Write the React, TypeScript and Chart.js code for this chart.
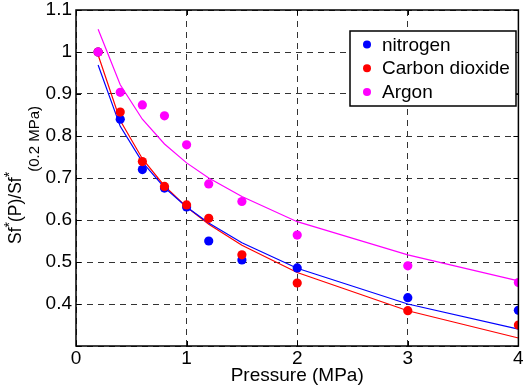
import React, { useEffect, useRef } from 'react';
import { Chart, registerables } from 'chart.js';

Chart.register(...registerables);

const FONT = '"Liberation Sans", Arial, Helvetica, sans-serif';

// Pressure (MPa)
const pressure = [0.2, 0.4, 0.6, 0.8, 1.0, 1.2, 1.5, 2, 3, 4];
// Measured Sf*(P)/Sf*(0.2 MPa)
const nitrogen = [1.0, 0.84, 0.72, 0.676, 0.631, 0.55, 0.505, 0.486, 0.415, 0.385];
const carbonDioxide = [1.0, 0.857, 0.739, 0.68, 0.636, 0.604, 0.517, 0.45, 0.384, 0.35];
const argon = [1.0, 0.904, 0.874, 0.848, 0.779, 0.686, 0.644, 0.564, 0.491, 0.451];
// Fitted curves
const nitrogenFit = [0.969, 0.823, 0.738, 0.677, 0.631, 0.593, 0.546, 0.485, 0.4, 0.34];
const carbonDioxideFit = [0.993, 0.837, 0.746, 0.681, 0.631, 0.59, 0.54, 0.475, 0.384, 0.319];
const argonFit = [1.054, 0.922, 0.84, 0.781, 0.736, 0.7, 0.656, 0.596, 0.517, 0.455];

const seriesLabels = ['nitrogen', 'Carbon dioxide', 'Argon'];
const seriesColors = ['#0000ff', '#ff0000', '#ff00ff'];

const xTickValues = [0, 1, 2, 3, 4];
const yTickValues = [0.3, 0.4, 0.5, 0.6, 0.7, 0.8, 0.9, 1.0, 1.1];
const yTickLabels = ['', '0.4', '0.5', '0.6', '0.7', '0.8', '0.9', '1', '1.1'];

const xTitle = 'Pressure (MPa)';

const toPts = (ys: number[]) => pressure.map((x, i) => ({ x, y: ys[i] }));

const overlay = {
  id: 'overlay',
  afterDraw(chart: any) {
    const { ctx, chartArea: a, scales } = chart;
    const xs = scales.x;
    const ys = scales.y;
    ctx.save();
    // inside tick marks
    ctx.strokeStyle = '#000';
    ctx.lineWidth = 1;
    ctx.setLineDash([]);
    ctx.beginPath();
    for (const t of xTickValues) {
      const px = Math.round(xs.getPixelForValue(t)) + 0.5;
      ctx.moveTo(px, a.bottom);
      ctx.lineTo(px, a.bottom - 5);
      ctx.moveTo(px, a.top);
      ctx.lineTo(px, a.top + 5);
    }
    for (const t of yTickValues) {
      const py = Math.round(ys.getPixelForValue(t)) + 0.5;
      ctx.moveTo(a.left, py);
      ctx.lineTo(a.left + 5, py);
      ctx.moveTo(a.right, py);
      ctx.lineTo(a.right - 5, py);
    }
    ctx.stroke();
    // axes box
    ctx.lineWidth = 1.5;
    ctx.strokeRect(a.left, a.top, a.right - a.left, a.bottom - a.top);

    // legend
    const lx = 350, ly = 31, lw = 166, lh = 75;
    ctx.fillStyle = '#fff';
    ctx.fillRect(lx, ly, lw, lh);
    ctx.lineWidth = 1.5;
    ctx.strokeStyle = '#000';
    ctx.strokeRect(lx, ly, lw, lh);
    ctx.font = `19px ${FONT}`;
    ctx.textBaseline = 'middle';
    ctx.textAlign = 'left';
    seriesLabels.forEach((lab, i) => {
      const cy = ly + 13.5 + i * 23.7;
      ctx.fillStyle = seriesColors[i];
      ctx.beginPath();
      ctx.arc(lx + 17, cy, 4, 0, Math.PI * 2);
      ctx.fill();
      ctx.fillStyle = '#000';
      ctx.fillText(lab, lx + 32, cy + 1);
    });

    // y axis title with super/subscripts
    const big = `17.5px ${FONT}`;
    const sup = `14px ${FONT}`;
    const sub = `15px ${FONT}`;
    const parts: [string, string, number][] = [
      ['Sf', big, 0],
      ['*', sup, -7],
      ['(P)/Sf', big, 0],
      ['*', sup, -7],
      ['(0.2 MPa)', sub, 18.5],
    ];
    let total = 0;
    for (const [t, f] of parts) {
      ctx.font = f;
      total += ctx.measureText(t).width;
    }
    const centerY = 175;
    ctx.translate(20.7, centerY + total / 2);
    ctx.rotate(-Math.PI / 2);
    ctx.fillStyle = '#000';
    ctx.textBaseline = 'alphabetic';
    let cx = 0;
    for (const [t, f, dy] of parts) {
      ctx.font = f;
      ctx.fillText(t, cx, dy);
      cx += ctx.measureText(t).width;
    }
    ctx.restore();
  },
};

export default function App() {
  const ref = useRef<HTMLCanvasElement>(null);
  useEffect(() => {
    if (!ref.current) return;
    const pointDs = (label: string, data: number[], color: string, order: number) => ({
      label,
      data: toPts(data),
      showLine: false,
      pointRadius: 4.6,
      pointBorderWidth: 0,
      pointBackgroundColor: color,
      backgroundColor: color,
      borderColor: color,
      clip: 0,
      order,
    });
    const lineDs = (label: string, data: number[], color: string) => ({
      label,
      data: toPts(data),
      showLine: true,
      pointRadius: 0,
      borderColor: color,
      borderWidth: 1.2,
      backgroundColor: color,
      fill: false,
      tension: 0,
      clip: 0,
      order: 10,
    });
    const chart = new Chart(ref.current, {
      type: 'scatter',
      data: {
        datasets: [
          lineDs('nitrogen fit', nitrogenFit, seriesColors[0]),
          lineDs('carbon dioxide fit', carbonDioxideFit, seriesColors[1]),
          lineDs('argon fit', argonFit, seriesColors[2]),
          pointDs(seriesLabels[0], nitrogen, seriesColors[0], 3),
          pointDs(seriesLabels[1], carbonDioxide, seriesColors[1], 2),
          pointDs(seriesLabels[2], argon, seriesColors[2], 1),
        ],
      } as any,
      options: {
        animation: false,
        responsive: false,
        maintainAspectRatio: false,
        layout: { padding: { left: 0, right: 2, top: 10, bottom: 0 } },
        plugins: { legend: { display: false }, tooltip: { enabled: false } },
        scales: {
          x: {
            type: 'linear',
            min: 0,
            max: 4,
            afterBuildTicks: (s: any) => {
              s.ticks = xTickValues.map((v) => ({ value: v }));
            },
            afterFit: (s: any) => {
              s.height = 45;
              s.paddingLeft = 0;
              s.paddingRight = 0;
            },
            grid: { color: '#333', lineWidth: 1, drawTicks: false },
            border: { display: false, dash: [6, 5] },
            ticks: {
              color: '#000',
              font: { family: FONT, size: 19 },
              padding: 1,
              maxRotation: 0,
              autoSkip: false,
              callback: (v: any) => String(v),
            },
            title: {
              display: true,
              text: xTitle,
              color: '#000',
              font: { family: FONT, size: 19 },
              padding: { top: 0, bottom: 4 },
            },
          },
          y: {
            type: 'linear',
            min: 0.3,
            max: 1.1,
            afterBuildTicks: (s: any) => {
              s.ticks = yTickValues.map((v) => ({ value: v }));
            },
            afterFit: (s: any) => {
              s.width = 76;
              s.paddingTop = 0;
              s.paddingBottom = 0;
            },
            grid: { color: '#333', lineWidth: 1, drawTicks: false },
            border: { display: false, dash: [6, 5] },
            ticks: {
              color: '#000',
              font: { family: FONT, size: 19 },
              padding: 4,
              autoSkip: false,
              callback: (_v: any, i: number) => yTickLabels[i],
            },
          },
        },
      } as any,
      plugins: [overlay],
    });
    return () => chart.destroy();
  }, []);
  return (
    <div style={{ position: 'absolute', left: 0, top: 0, width: 523, height: 391, background: '#fff' }}>
      <canvas ref={ref} width={523} height={391} style={{ display: 'block' }} />
    </div>
  );
}
